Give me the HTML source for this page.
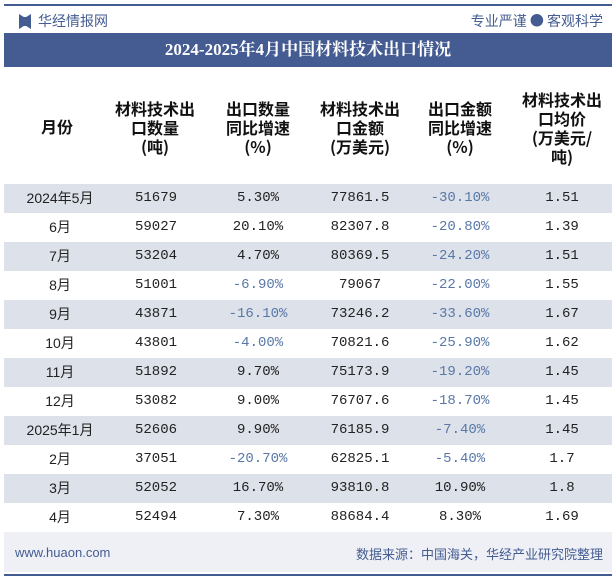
<!DOCTYPE html>
<html><head><meta charset="utf-8"><style>
body{margin:0;width:615px;height:580px;background:#fff;position:relative;overflow:hidden;font-family:"Liberation Sans","Noto Sans CJK SC",sans-serif}
.abs{position:absolute}
.row{position:absolute;left:4px;width:608px;height:29px}
.cell{position:absolute;top:0;height:29px;line-height:29px;text-align:center;font-family:"Liberation Mono","Noto Sans CJK SC",monospace;font-size:14px;color:#222;width:110px;margin-left:-55px}
.neg{color:#5878a8}
.hd{position:absolute;top:88px;width:110px;margin-left:-55px;text-align:center;font-weight:bold;font-size:16px;line-height:19px;color:#111;font-family:"Noto Sans CJK SC",sans-serif}
</style></head><body>
<div class="abs" style="left:4px;top:4px;width:608px;height:2px;background:#445c92"></div>
<div class="abs" style="left:19px;top:14px;width:12px;height:15px;background:#445c92;clip-path:polygon(0 0,40% 20%,60% 20%,100% 0,100% 100%,60% 80%,40% 80%,0 100%)"></div>
<div class="abs" style="left:38px;top:11px;font-size:14px;color:#445c92;font-family:'Noto Sans CJK SC',sans-serif">华经情报网</div>
<div class="abs" style="right:12px;top:11px;font-size:14px;color:#445c92;font-family:'Noto Sans CJK SC',sans-serif">专业严谨 ● 客观科学</div>
<div class="abs" style="left:4px;top:33px;width:608px;height:34px;background:#445c92;color:#fff;text-align:center;line-height:34px;font-weight:bold;font-size:17px;font-family:'Liberation Serif','Noto Serif CJK SC',serif">2024-2025年4月中国材料技术出口情况</div>
<div class="hd" style="left:57px;top:117px">月份</div>
<div class="hd" style="left:155px;top:99px">材料技术出<br>口数量<br>(吨)</div>
<div class="hd" style="left:258px;top:99px">出口数量<br>同比增速<br>(%)</div>
<div class="hd" style="left:360px;top:99px">材料技术出<br>口金额<br>(万美元)</div>
<div class="hd" style="left:460px;top:99px">出口金额<br>同比增速<br>(%)</div>
<div class="hd" style="left:562px;top:90px">材料技术出<br>口均价<br>(万美元/<br>吨)</div>
<div id="rows"></div>
<div class="abs" style="left:4px;top:532px;width:608px;height:40px;background:#eef0f5"></div>
<div class="abs" style="left:15px;top:545px;font-size:13px;color:#445c92">www.huaon.com</div>
<div class="abs" style="right:12px;top:544px;font-size:13px;color:#445c92;font-family:'Noto Sans CJK SC',sans-serif">数据来源：中国海关，华经产业研究院整理</div>
<div class="abs" style="left:4px;top:574px;width:608px;height:2px;background:#445c92"></div>
<script>
const months=["2024年5月","6月","7月","8月","9月","10月","11月","12月","2025年1月","2月","3月","4月"];
const qty=["51679","59027","53204","51001","43871","43801","51892","53082","52606","37051","52052","52494"];
const qtyYoy=["5.30%","20.10%","4.70%","-6.90%","-16.10%","-4.00%","9.70%","9.00%","9.90%","-20.70%","16.70%","7.30%"];
const amount=["77861.5","82307.8","80369.5","79067","73246.2","70821.6","75173.9","76707.6","76185.9","62825.1","93810.8","88684.4"];
const amountYoy=["-30.10%","-20.80%","-24.20%","-22.00%","-33.60%","-25.90%","-19.20%","-18.70%","-7.40%","-5.40%","10.90%","8.30%"];
const price=["1.51","1.39","1.51","1.55","1.67","1.62","1.45","1.45","1.45","1.7","1.8","1.69"];
const cols=[[months,56,'month'],[qty,152,'qty'],[qtyYoy,254,'qty-yoy'],[amount,356,'amount'],[amountYoy,456,'amount-yoy'],[price,558,'price']];
const box=document.getElementById('rows');
months.forEach((m,i)=>{
  const r=document.createElement('div');
  r.className='row';
  
  
  r.style.top=(184+i*29)+'px';
  r.style.background=i%2===0?'#dde1ea':'#fff';
  cols.forEach(c=>{
    const d=document.createElement('div');
    d.className='cell';
    
    
    d.style.left=c[1]+'px';
    const v=c[0][i];
    if(v.startsWith('-'))d.classList.add('neg');
    if(c[2]==='month')d.style.fontFamily='"Liberation Sans","Noto Sans CJK SC",sans-serif';
    d.textContent=v;
    r.appendChild(d);
  });
  box.appendChild(r);
});
</script>
</body></html>
